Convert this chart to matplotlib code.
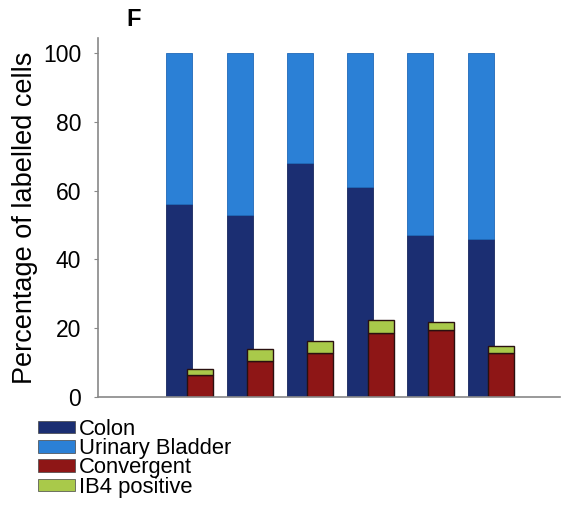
import matplotlib.pyplot as plt
import numpy as np
from matplotlib.patches import Patch

plt.rcParams['font.family'] = ['Liberation Sans', 'DejaVu Sans']

# 各群の値（%）
colon = [56, 53, 68, 61, 47, 46]
bladder = [44, 47, 32, 39, 53, 54]
convergent = [6.4, 10.5, 12.6, 18.5, 19.5, 12.6]
ib4 = [1.8, 3.5, 3.5, 3.9, 2.2, 2.3]
labels = ['Colon', 'Urinary Bladder', 'Convergent', 'IB4 positive']

c_colon = '#1b2e72'
c_bladder = '#2b80d6'
c_conv = '#8e1616'
c_ib4 = '#a9c94a'

x = np.arange(1, len(colon) + 1)
w = 0.43
off = 0.34

fig = plt.figure(figsize=(5.78, 5.09), dpi=100)
ax = fig.add_axes([0.1696, 0.2206, 0.7994, 0.7044])

ax.bar(x, colon, w, color=c_colon, edgecolor='#16265e', linewidth=0.6)
ax.bar(x, bladder, w, bottom=colon, color=c_bladder, edgecolor='#1f68b8', linewidth=0.6)
ax.bar(x + off, convergent, w, color=c_conv, edgecolor='#2a1010', linewidth=1.0)
ax.bar(x + off, ib4, w, bottom=convergent, color=c_ib4, edgecolor='#2a1010', linewidth=1.0)

ax.set_xlim(-0.35, 7.32)
ax.set_ylim(0, 104.4)
ax.set_yticks([0, 20, 40, 60, 80, 100])
ax.set_xticks([])
ax.tick_params(axis='y', labelsize=16.5, length=3, color='#888888', pad=9)
for s in ['top', 'right']:
    ax.spines[s].set_visible(False)
for s in ['left', 'bottom']:
    ax.spines[s].set_color('#888888')
    ax.spines[s].set_linewidth(1.2)
ax.set_ylabel('Percentage of labelled cells', fontsize=19.5, labelpad=4)

fig.text(0.219, 0.961, 'F', fontsize=17, fontweight='bold', ha='left', va='center')

handles = [Patch(facecolor=c, edgecolor='#444444', linewidth=0.5)
           for c in [c_colon, c_bladder, c_conv, c_ib4]]
fig.legend(handles, labels, loc='upper left', bbox_to_anchor=(0.066, 0.177),
           frameon=False, fontsize=15.8, handlelength=1.7, handleheight=0.5,
           handletextpad=0.15, labelspacing=-0.08, borderaxespad=0, borderpad=0)

fig.savefig('out.png', dpi=100)
